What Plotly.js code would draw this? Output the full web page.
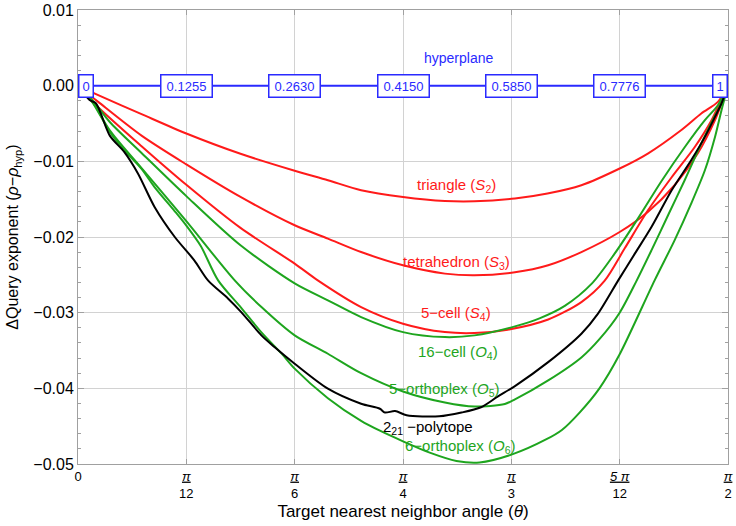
<!DOCTYPE html>
<html>
<head>
<meta charset="utf-8">
<script src="https://cdn.plot.ly/plotly-3.0.1.min.js"></script>
<style>
  html, body { margin: 0; padding: 0; background: #fff; }
  #plot { width: 736px; height: 526px; }
</style>
</head>
<body>
<div id="plot"></div>
<script>
// angles in degrees, axis ticks shown as fractions of pi
const angleTicks = [0, 15, 30, 45, 60, 75, 90];
const angleTickNum = ['0', 'π', 'π', 'π', 'π', '5 π', 'π'];
const angleTickDen = ['', '12', '6', '4', '3', '12', '2'];

// hyperplane reference values shown in boxes along y = 0
const hyperplaneAngles = [0, 15, 30, 45, 60, 75, 90];
const hyperplaneValues = ['0', '0.1255', '0.2630', '0.4150', '0.5850', '0.7776', '1'];

const triangleX = [0, 2.8, 8.8, 15, 22.5, 30, 34.6, 39.2, 45, 50.8, 54.9, 60.5, 65, 69.7, 75, 78.9, 83.5, 86.3, 88.6, 90];
const triangleY = [0, -0.00126, -0.00377, -0.00632, -0.0090, -0.01124, -0.0125, -0.01382, -0.01471, -0.01524, -0.01528, -0.01492, -0.01426, -0.01316, -0.01095, -0.00897, -0.00589, -0.00368, -0.00214, 0];

const tetraX = [0, 2.8, 8.8, 15, 22.5, 30, 34.6, 39.2, 45, 50.8, 54.9, 60.5, 65.1, 69.7, 75, 78.9, 82.6, 85.8, 88.2, 89.1, 90];
const tetraY = [0, -0.00214, -0.0066, -0.0104, -0.0147, -0.01845, -0.02021, -0.02199, -0.02374, -0.02484, -0.02507, -0.02467, -0.02374, -0.02199, -0.01934, -0.01669, -0.01316, -0.00897, -0.00456, -0.00235, 0];

const fiveCellX = [0, 2.5, 8.8, 15, 22.5, 30, 33.2, 39.2, 45, 50.8, 54.9, 59.5, 65.1, 69.7, 72.9, 75.7, 78.9, 82.2, 85.4, 87.7, 88.8, 90];
const fiveCellY = [0, -0.00258, -0.0080, -0.0131, -0.0188, -0.02352, -0.02573, -0.02926, -0.03146, -0.03257, -0.0327, -0.03225, -0.0309, -0.0286, -0.0258, -0.0215, -0.0165, -0.0121, -0.0081, -0.0046, -0.0024, 0];

const sixteenCellX = [0, 2.0, 4.4, 8.8, 15, 22.5, 30, 34.6, 39.2, 45, 50.8, 54.9, 60.5, 63.9, 67.4, 71.1, 74.3, 77.5, 80.8, 84.0, 86.8, 88.6, 90];
const sixteenCellY = [0, -0.0019, -0.0048, -0.0089, -0.0146, -0.0211, -0.02613, -0.02837, -0.03058, -0.03257, -0.03323, -0.033, -0.03181, -0.03075, -0.0291, -0.0262, -0.0222, -0.0176, -0.0126, -0.00814, -0.00456, -0.00258, 0];

const orth5X = [0, 2.0, 4.4, 8.8, 15, 21.7, 25.4, 30, 34.6, 39.2, 45, 50.8, 54.9, 59.1, 60.5, 65.1, 69.7, 72.2, 75, 77.3, 79.4, 81.7, 84.0, 86.3, 88.1, 89.1, 90];
const orth5Y = [0, -0.0021, -0.0059, -0.0109, -0.0179, -0.02573, -0.02926, -0.033, -0.03543, -0.0380, -0.04041, -0.04187, -0.0424, -0.04207, -0.04147, -0.03896, -0.03592, -0.0335, -0.03, -0.02586, -0.02176, -0.01713, -0.0125, -0.00765, -0.00413, -0.00235, 0];

const polytopeX = [0, 1.6, 2.5, 4.4, 6.4, 8.3, 10.6, 13.4, 16.1, 18.0, 20.8, 22.6, 25.4, 27.2, 30, 34.6, 39.2, 41.8, 42.5, 43.9, 45.5, 50.0, 53.1, 55.8, 58.1, 60.5, 65.1, 69.7, 72.0, 74.8, 77.1, 79.4, 82.2, 84.9, 86.8, 88.2, 89.1, 90];
const polytopeY = [0, -0.0019, -0.00235, -0.0066, -0.00876, -0.01161, -0.01603, -0.02, -0.02308, -0.02573, -0.02815, -0.02992, -0.033, -0.03455, -0.03675, -0.04005, -0.04204, -0.0427, -0.0432, -0.0430, -0.04355, -0.0437, -0.0432, -0.0425, -0.0411, -0.0397, -0.03654, -0.03278, -0.03013, -0.02573, -0.0222, -0.01868, -0.01382, -0.00985, -0.00677, -0.00413, -0.00235, 0];

const orth6X = [0, 2.0, 4.4, 6.5, 8.8, 10.6, 13.4, 15, 17.0, 19.4, 22.6, 25.4, 28.2, 30, 34.6, 39.2, 41.8, 45, 48.7, 52.4, 55.6, 60.2, 64.8, 67, 69.45, 72.2, 75, 79.84, 82.6, 84.9, 86.8, 88.2, 89.1, 90];
const orth6Y = [0, -0.0022, -0.0061, -0.0086, -0.0110, -0.0134, -0.0166, -0.0185, -0.0212, -0.02573, -0.02936, -0.0326, -0.03542, -0.0374, -0.0413, -0.0443, -0.0456, -0.0470, -0.0485, -0.0496, -0.0498, -0.0487, -0.04676, -0.0455, -0.0432, -0.0400, -0.0355, -0.02573, -0.02044, -0.01558, -0.01118, -0.00677, -0.00324, 0];

const RED = '#ff1a1a', GREEN = '#1ea51e', BLACK = '#000000', BLUE = '#2a2aff';

const series = [
  { x: triangleX, y: triangleY, color: RED },
  { x: tetraX, y: tetraY, color: RED },
  { x: fiveCellX, y: fiveCellY, color: RED },
  { x: sixteenCellX, y: sixteenCellY, color: GREEN },
  { x: orth5X, y: orth5Y, color: GREEN },
  { x: orth6X, y: orth6Y, color: GREEN },
  { x: polytopeX, y: polytopeY, color: BLACK }
];

// curve labels
const labelText = [
  'triangle (<i>S</i><sub>2</sub>)',
  'tetrahedron (<i>S</i><sub>3</sub>)',
  '5−cell (<i>S</i><sub>4</sub>)',
  '16−cell (<i>O</i><sub>4</sub>)',
  '5−orthoplex (<i>O</i><sub>5</sub>)',
  '2<sub>21</sub> −polytope',
  '6−orthoplex (<i>O</i><sub>6</sub>)'
];
const labelX = [52.4, 52.4, 52.4, 52.6, 50.8, 48.4, 53.0];
const labelY = [-0.01316, -0.02331, -0.03013, -0.03521, -0.04019, -0.04513, -0.04765];
const labelColor = [RED, RED, RED, GREEN, GREEN, BLACK, GREEN];

const traces = [{
  x: [0, 90], y: [0, 0], type: 'scatter', mode: 'lines',
  line: { color: BLUE, width: 2 }, hoverinfo: 'skip'
}];
series.forEach(function (s) {
  traces.push({
    x: s.x, y: s.y, type: 'scatter', mode: 'lines',
    line: { color: s.color, width: 2, shape: 'spline', smoothing: 0.8 }
  });
});

const annotations = [];
hyperplaneAngles.forEach(function (a, i) {
  const last = hyperplaneAngles.length - 1;
  const end = i === 0 || i === last;
  annotations.push({
    x: a, y: 0, xref: 'x', yref: 'y', showarrow: false,
    text: hyperplaneValues[i],
    xanchor: i === 0 ? 'left' : (i === last ? 'right' : 'center'),
    width: end ? null : 44,
    font: { size: 13, color: BLUE },
    bgcolor: '#ffffff', bordercolor: BLUE, borderwidth: 1.5, borderpad: 3
  });
});
annotations.push({
  x: 52.7, y: 0.0036, xref: 'x', yref: 'y', showarrow: false,
  text: 'hyperplane', font: { size: 14, color: BLUE }
});
labelText.forEach(function (t, i) {
  annotations.push({
    x: labelX[i], y: labelY[i], xref: 'x', yref: 'y', showarrow: false,
    text: t, font: { size: 15, color: labelColor[i] }
  });
});

const tickText = angleTickNum.map(function (n, i) {
  if (!angleTickDen[i]) return n;
  return "<span style='text-decoration:underline'><i>" + n + "</i></span><br>" + angleTickDen[i];
});

const layout = {
  width: 736, height: 526,
  margin: { l: 78, r: 8, t: 10, b: 62 },
  paper_bgcolor: '#ffffff', plot_bgcolor: '#ffffff',
  showlegend: false,
  font: { family: 'Liberation Sans, Arial, sans-serif', color: '#000' },
  xaxis: {
    range: [0, 90], tickmode: 'array', tickvals: angleTicks, ticktext: tickText,
    showgrid: true, gridcolor: '#d2d2d2', zeroline: false,
    showline: true, linecolor: '#a0a0a0', mirror: 'ticks',
    ticks: 'inside', ticklen: 5, tickcolor: '#a0a0a0',
    tickfont: { size: 13 },
    title: { text: 'Target nearest neighbor angle (<i>θ</i>)', font: { size: 17 }, standoff: 5 }
  },
  yaxis: {
    range: [-0.05, 0.01], dtick: 0.01, tickformat: '.2f',
    showgrid: true, gridcolor: '#d2d2d2', zeroline: false,
    showline: true, linecolor: '#a0a0a0', mirror: 'ticks',
    ticks: 'inside', ticklen: 6, tickcolor: '#a0a0a0',
    minor: { dtick: 0.002, ticks: 'inside', ticklen: 3, tickcolor: '#a0a0a0', showgrid: false },
    tickfont: { size: 16 },
    title: { text: 'ΔQuery exponent (<i>ρ</i>−<i>ρ</i><sub>hyp</sub>)', font: { size: 16 }, standoff: 10 }
  },
  annotations: annotations
};

Plotly.newPlot('plot', traces, layout, { displayModeBar: false, staticPlot: true });
</script>
</body>
</html>
